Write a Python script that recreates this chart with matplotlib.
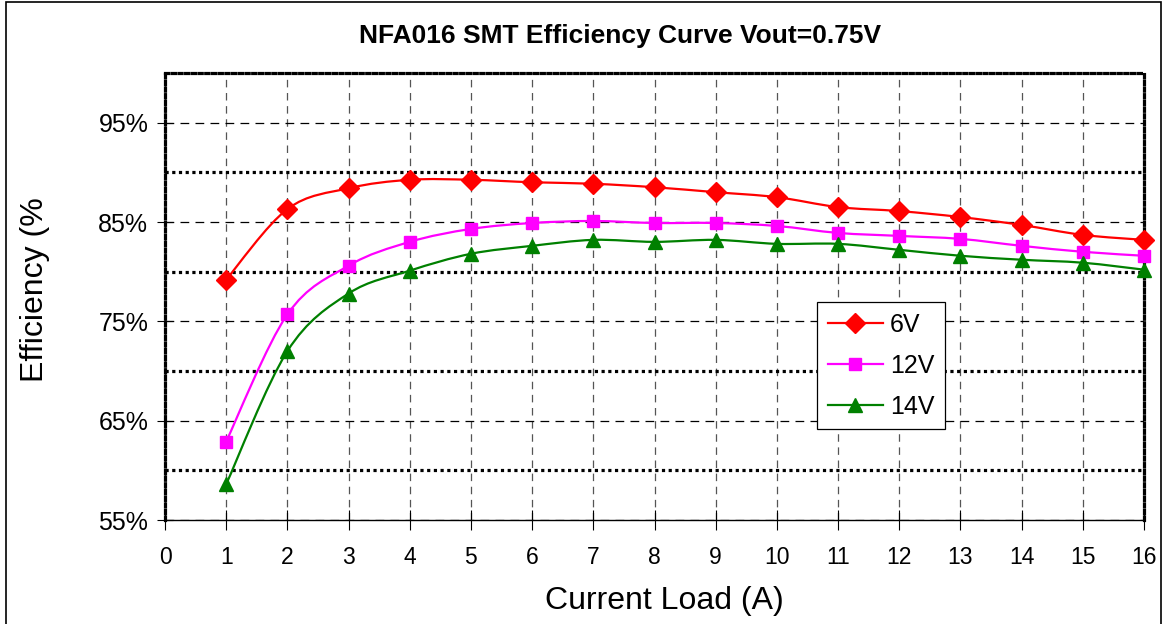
import matplotlib
matplotlib.use("Agg")
import matplotlib.pyplot as plt
from matplotlib.lines import Line2D
from matplotlib.path import Path
from matplotlib.patches import PathPatch, Rectangle
from matplotlib.ticker import MultipleLocator, FuncFormatter
import numpy as np

plt.rcParams["font.family"] = ["Liberation Sans", "DejaVu Sans"]

# current load (A)
load = [1, 2, 3, 4, 5, 6, 7, 8, 9, 10, 11, 12, 13, 14, 15, 16]

# efficiency (%) per input voltage
eff_6v = [79.2, 86.3, 88.4, 89.25, 89.25, 89.0, 88.85, 88.5, 88.0, 87.5,
          86.5, 86.1, 85.5, 84.7, 83.7, 83.2]
eff_12v = [62.9, 75.7, 80.6, 83.0, 84.3, 84.9, 85.1, 84.9, 84.9, 84.6,
           83.9, 83.6, 83.3, 82.6, 82.0, 81.6]
eff_14v = [58.6, 72.0, 77.8, 80.1, 81.8, 82.6, 83.2, 83.0, 83.2, 82.8,
           82.8, 82.2, 81.6, 81.2, 80.9, 80.2]

SERIES = [
    ("6V", eff_6v, "#FF0000", "D", 10),
    ("12V", eff_12v, "#FF00FF", "s", 8.5),
    ("14V", eff_14v, "#008000", "^", 10),
]


def smooth_path(x, y):
    """Excel-style smoothed line: cubic Bezier through every point."""
    pts = np.column_stack([x, y]).astype(float)
    n = len(pts)
    verts = [pts[0]]
    codes = [Path.MOVETO]
    for i in range(n - 1):
        p0 = pts[i - 1] if i > 0 else pts[i]
        p1, p2 = pts[i], pts[i + 1]
        p3 = pts[i + 2] if i + 2 < n else pts[i + 1]
        c1 = p1 + (p2 - p0) / 6.0
        c2 = p2 - (p3 - p1) / 6.0
        verts += [c1, c2, p2]
        codes += [Path.CURVE4] * 3
    return Path(verts, codes)


fig = plt.figure(figsize=(11.67, 6.24), dpi=100)
fig.patches.append(Rectangle((0.005, -0.02), 0.99, 1.017, transform=fig.transFigure,
                             fill=False, edgecolor="black", linewidth=1.2))

ax = fig.add_axes([165 / 1167, 1 - 520 / 624, (1144 - 165) / 1167, (520 - 73) / 624])

ax.set_xlim(0, 16)
ax.set_ylim(55, 100)
ax.xaxis.set_major_locator(MultipleLocator(1))
ax.set_yticks([55, 65, 75, 85, 95])
ax.set_yticks([60, 70, 80, 90], minor=True)
ax.yaxis.set_major_formatter(FuncFormatter(lambda v, _: f"{v:.0f}%"))

ax.xaxis.grid(True, which="major", color="#555555", linestyle=(0, (6, 4.5)), linewidth=0.9)
ax.yaxis.grid(True, which="major", color="black", linestyle=(0, (7, 5)), linewidth=0.9)
ax.yaxis.grid(True, which="minor", color="black", linestyle=(0, (1, 1.1)), linewidth=2.3)
ax.set_axisbelow(True)

for side in ["top", "left", "right"]:
    ax.spines[side].set_linestyle((0, (1, 1.1)))
    ax.spines[side].set_linewidth(2.3)
ax.spines["bottom"].set_linewidth(1.0)

ax.tick_params(axis="x", which="major", direction="inout", length=14, width=0.8,
               labelsize=16.5, pad=12)
ax.tick_params(axis="y", which="major", direction="inout", length=12, width=0.8,
               labelsize=18, pad=6)
ax.tick_params(axis="y", which="minor", length=0)

handles = []
for label, vals, color, marker, ms in SERIES:
    ax.add_patch(PathPatch(smooth_path(load, vals), fill=False, edgecolor=color,
                           linewidth=1.6, zorder=3))
    ax.plot(load, vals, linestyle="none", marker=marker, markersize=ms,
            color=color, markeredgecolor=color, zorder=4, clip_on=False)
    handles.append(Line2D([], [], color=color, linewidth=1.6, marker=marker,
                          markersize=ms, label=label))

leg = ax.legend(handles=handles, loc="upper left",
                bbox_to_anchor=(817 / 1167, 1 - 302 / 624),
                bbox_transform=fig.transFigure, fontsize=18, frameon=True,
                fancybox=False, edgecolor="black", framealpha=1,
                handlelength=2.2, handletextpad=0.3, labelspacing=0.68,
                borderpad=0.42, borderaxespad=0)
leg.get_frame().set_linewidth(0.9)

fig.text(620 / 1167, 1 - 36 / 624, "NFA016 SMT Efficiency Curve Vout=0.75V",
         fontsize=19, fontweight="bold", ha="center", va="center")

ax.set_xlabel("Current Load (A)", fontsize=23)
ax.xaxis.label.set_va("center")
ax.xaxis.set_label_coords((664 - 165) / 979, (520 - 601) / 447)
ax.set_ylabel("Efficiency (%", fontsize=23)
ax.yaxis.label.set_va("center")
ax.yaxis.set_label_coords((35 - 165) / 979, (520 - 290) / 447)

fig.savefig("out.png", dpi=100)
